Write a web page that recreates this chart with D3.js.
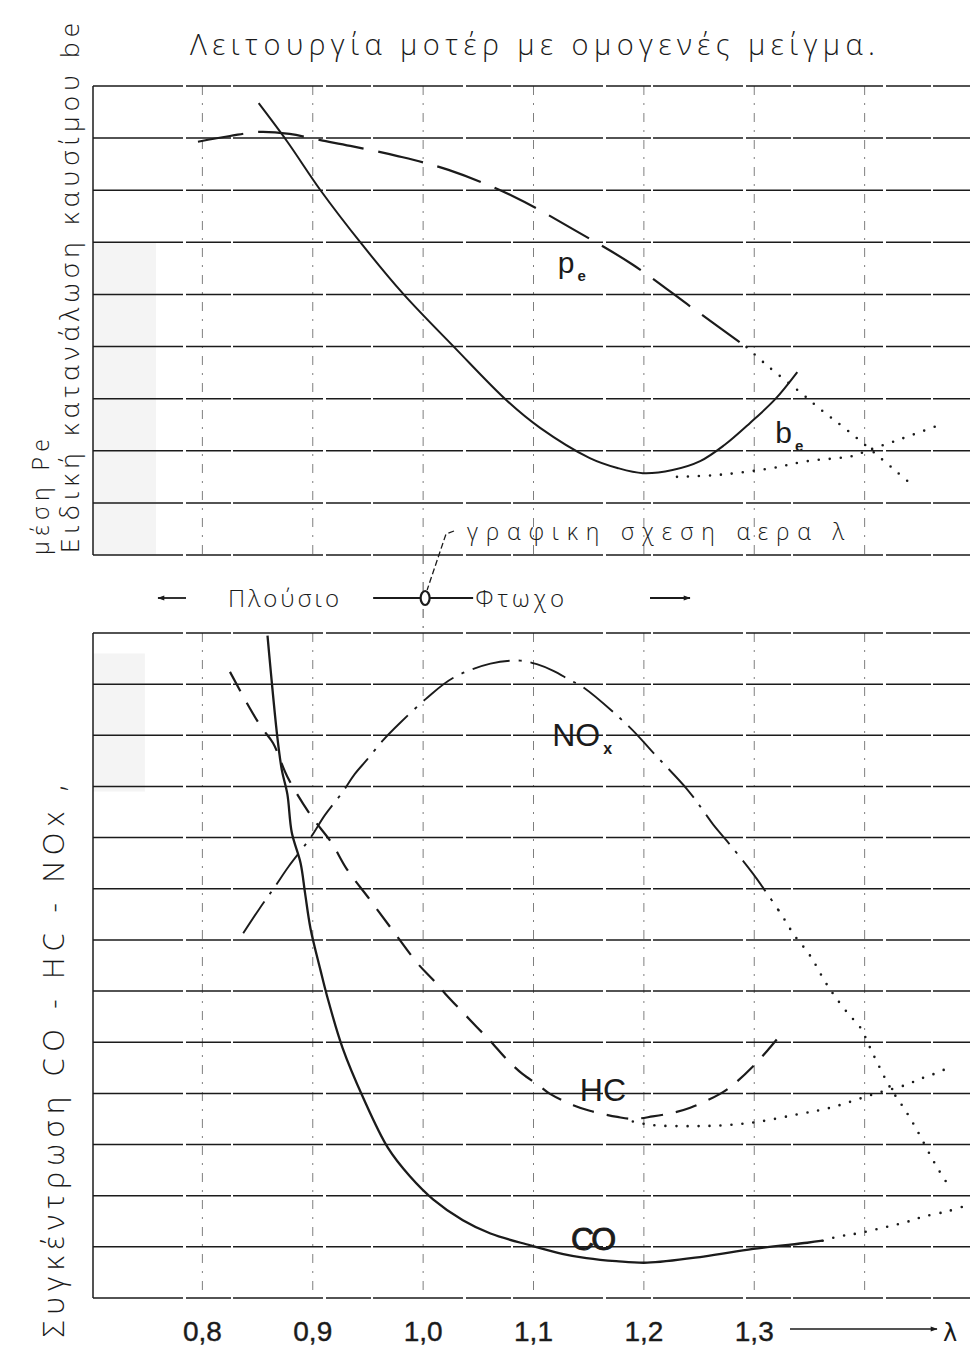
<!DOCTYPE html>
<html><head><meta charset="utf-8">
<script src="https://cdn.jsdelivr.net/npm/d3@7"></script>
<style>body{margin:0;background:#fff}svg{display:block}</style>
</head><body>
<svg id="chart" width="973" height="1353"></svg>
<script>
// ---------- data (λ, value in grid units) ----------
const lambdaTicks = [0.8, 0.9, 1.0, 1.1, 1.2, 1.3];
const lambdaTickLabels = ["0,8", "0,9", "1,0", "1,1", "1,2", "1,3"];
const gridLambdas = [0.8, 0.9, 1.0, 1.1, 1.2, 1.3, 1.4];
const topRows = [0, 1, 2, 3, 4, 5, 6, 7, 8, 9];
const bottomRows = [0, 1, 2, 3, 4, 5, 6, 7, 8, 9, 10, 11, 12, 13];

// upper panel: mean pressure pe and specific consumption be
const pe = [[0.796,7.93],[0.825,8.04],[0.852,8.12],[0.879,8.08],[0.907,7.96],[0.934,7.85],[0.976,7.66],[1.023,7.39],[1.081,6.89],[1.140,6.20],[1.190,5.57],[1.244,4.74],[1.293,3.99]];
const peLean = [[1.293,3.99],[1.312,3.63],[1.343,3.10],[1.362,2.76],[1.384,2.40],[1.425,1.67],[1.446,1.29]];
const be = [[0.851,8.67],[0.877,7.93],[0.907,7.00],[0.945,5.95],[0.982,5.01],[1.029,3.97],[1.076,2.96],[1.106,2.44],[1.151,1.86],[1.176,1.67],[1.199,1.57],[1.226,1.63],[1.251,1.80],[1.273,2.11],[1.296,2.53],[1.319,2.99],[1.339,3.51]];
const beLean = [[1.230,1.50],[1.269,1.54],[1.314,1.66],[1.348,1.80],[1.389,1.90],[1.402,2.00],[1.432,2.22],[1.466,2.48]];

// lower panel: CO, HC, NOx concentration
const co = [[0.859,12.95],[0.868,10.95],[0.872,10.32],[0.877,9.85],[0.881,9.10],[0.889,8.50],[0.893,7.92],[0.898,7.22],[0.907,6.41],[0.913,5.90],[0.927,4.89],[0.946,3.90],[0.968,2.94],[0.988,2.38],[1.009,1.93],[1.036,1.52],[1.061,1.26],[1.097,1.03],[1.127,0.86],[1.148,0.78],[1.175,0.72],[1.203,0.69],[1.254,0.81],[1.299,0.96],[1.348,1.08],[1.362,1.12]];
const coLean = [[1.362,1.12],[1.378,1.21],[1.393,1.26],[1.420,1.39],[1.437,1.48],[1.453,1.59],[1.476,1.70],[1.491,1.80]];
const hc = [[0.825,12.24],[0.843,11.53],[0.854,11.14],[0.864,10.85],[0.877,10.19],[0.898,9.44],[0.917,8.90],[0.931,8.38],[0.952,7.78],[0.973,7.17],[0.995,6.54],[1.009,6.22],[1.020,5.95],[1.049,5.29],[1.061,5.02],[1.076,4.66],[1.090,4.38],[1.104,4.17],[1.115,3.99],[1.136,3.77],[1.151,3.66],[1.176,3.54],[1.190,3.50],[1.208,3.55],[1.226,3.62],[1.242,3.72],[1.269,3.99],[1.281,4.17],[1.299,4.53],[1.312,4.84],[1.326,5.20]];
const hcLean = [[1.190,3.45],[1.208,3.38],[1.245,3.36],[1.275,3.38],[1.305,3.45],[1.339,3.59],[1.369,3.72],[1.409,3.99],[1.438,4.17],[1.450,4.28],[1.464,4.39],[1.479,4.53]];
const nox = [[0.837,7.13],[0.852,7.62],[0.866,8.05],[0.878,8.43],[0.898,9.00],[0.911,9.44],[0.927,9.89],[0.938,10.24],[0.949,10.52],[0.964,10.91],[0.979,11.24],[1.004,11.74],[1.027,12.12],[1.061,12.40],[1.088,12.46],[1.103,12.39],[1.118,12.26],[1.133,12.08],[1.145,11.94],[1.187,11.16],[1.208,10.67],[1.239,9.95],[1.253,9.55],[1.263,9.25],[1.275,8.94],[1.299,8.29],[1.322,7.58]];
const noxLean = [[1.322,7.58],[1.330,7.31],[1.335,7.13],[1.351,6.68],[1.364,6.19],[1.371,5.96],[1.385,5.56],[1.396,5.29],[1.405,4.89],[1.411,4.62],[1.423,4.12],[1.438,3.63],[1.450,3.18],[1.461,2.73],[1.468,2.47],[1.476,2.20]];

// curve labels: [text, subscript, λ, grid value]
const topLabels = [["p","e",1.122,5.41],["b","e",1.319,2.15]];
const bottomLabels = [["NO","x",1.117,10.79],["HC","",1.142,3.85],["CO","",1.134,0.94]];

// texts
const titleText = "Λειτουργία μοτέρ με ομογενές μείγμα.";
const yTopLabel1 = "μέση Pe";
const yTopLabel2 = "Ειδική κατανάλωση καυσίμου be";
const yBottomLabel = "Συγκέντρωση CO - HC - NOx ,";
const airNote = "γραφικη σχεση αερα λ";
const richText = "Πλούσιο";
const leanText = "Φτωχο";
const axisName = "λ";

// ---------- drawing ----------
const svg = d3.select("#chart");
const x = d3.scaleLinear().domain([0.7, 1.5]).range([92, 975]);
const yTop = d3.scaleLinear().domain([0, 9]).range([555, 86]);
const yBot = d3.scaleLinear().domain([0, 13]).range([1298, 633]);
const thinFont = "'Open Sans','Noto Sans','DejaVu Sans',sans-serif";
const ink = "#1b1b1b";

svg.append("rect").attr("width", 973).attr("height", 1353).attr("fill", "#fff");

const defs = svg.append("defs");
defs.append("marker").attr("id", "ah").attr("viewBox", "0 0 10 10").attr("refX", 9).attr("refY", 5)
  .attr("markerWidth", 9).attr("markerHeight", 7).attr("orient", "auto-start-reverse")
  .attr("markerUnits", "userSpaceOnUse")
  .append("path").attr("d", "M0,1.5L10,5L0,8.5Z").attr("fill", ink);

// faint scan shading
svg.append("rect").attr("x", x(0.7) + 1).attr("y", yTop(6)).attr("width", x(0.757) - x(0.7))
  .attr("height", yTop(0) - yTop(6)).attr("fill", "#f4f4f4");
svg.append("rect").attr("x", x(0.7) + 1).attr("y", yBot(12.6)).attr("width", x(0.747) - x(0.7))
  .attr("height", yBot(9.9) - yBot(12.6)).attr("fill", "#f4f4f4");

function panel(yScale, rows) {
  const g = svg.append("g");
  const [y0, y1] = yScale.range();
  g.selectAll(".v").data(gridLambdas).enter().append("line")
    .attr("x1", d => x(d)).attr("x2", d => x(d)).attr("y1", y1).attr("y2", y0)
    .attr("stroke", "#555").attr("stroke-width", 1)
    .attr("stroke-dasharray", "9,8,2,8").attr("opacity", 0.75);
  g.selectAll(".h").data(rows).enter().append("line")
    .attr("x1", x(0.7) + 1).attr("x2", 970).attr("y1", d => yScale(d)).attr("y2", d => yScale(d))
    .attr("stroke", ink).attr("stroke-width", 1.5).attr("stroke-dasharray", "90,3,45,2");
  g.append("line").attr("x1", x(0.7) + 1).attr("x2", x(0.7) + 1).attr("y1", y1).attr("y2", y0)
    .attr("stroke", ink).attr("stroke-width", 1.5);
  return g;
}
panel(yTop, topRows);
panel(yBot, bottomRows);
svg.append("line").attr("x1", x(1.0)).attr("x2", x(1.0)).attr("y1", yTop(0)).attr("y2", yBot(13))
  .attr("stroke", "#555").attr("stroke-width", 1).attr("stroke-dasharray", "9,8,2,8");

function curve(data, yScale, style) {
  const line = d3.line().x(d => x(d[0])).y(d => yScale(d[1])).curve(d3.curveCatmullRom.alpha(0.5));
  svg.append("path").attr("d", line(data)).attr("fill", "none").attr("stroke", ink)
    .attr("stroke-width", style.w).attr("stroke-dasharray", style.dash || null)
    .attr("stroke-linecap", style.cap || "butt");
}
const solid = {w: 2};
const dotted = {w: 2.6, dash: "0,11", cap: "round"};
curve(pe, yTop, {w: 2.2, dash: "46,15"});
curve(peLean, yTop, dotted);
curve(be, yTop, solid);
curve(beLean, yTop, dotted);
curve(co, yBot, {w: 2.3});
curve(coLean, yBot, dotted);
curve(hc, yBot, {w: 2.2, dash: "22,13"});
curve(hcLean, yBot, dotted);
curve(nox, yBot, {w: 1.9, dash: "38,9,3,9"});
curve(noxLean, yBot, dotted);

function labels(list, yScale, size) {
  list.forEach(([t, sub, l, v]) => {
    const tx = svg.append("text").attr("x", x(l)).attr("y", yScale(v))
      .attr("font-family", "'Liberation Sans',Arial,sans-serif").attr("font-size", size)
      .attr("fill", ink).text(t);
    if (t === "CO") tx.attr("letter-spacing", -3).attr("stroke", ink).attr("stroke-width", 0.9);
    if (sub) {
      tx.append("tspan").attr("dy", 8).attr("dx", 3).attr("font-size", size * 0.5)
        .attr("font-weight", "bold").text(sub);
    }
  });
}
labels(topLabels, yTop, 30);
labels(bottomLabels, yBot, 32);

svg.append("text").attr("x", 190).attr("y", 55).attr("font-family", thinFont).attr("font-weight", 300)
  .attr("font-size", 29).attr("fill", ink).attr("textLength", 685).attr("lengthAdjust", "spacing")
  .text(titleText);

function vtext(str, bx, by, len, size) {
  svg.append("text").attr("transform", `translate(${bx},${by}) rotate(-90)`)
    .attr("font-family", thinFont).attr("font-weight", 300).attr("font-size", size)
    .attr("fill", ink).attr("textLength", len).attr("lengthAdjust", "spacing").text(str);
}
vtext(yTopLabel1, 49, 555, 116, 23);
vtext(yTopLabel2, 79, 553, 530, 26);
vtext(yBottomLabel, 64, 1337, 552, 29);

svg.append("text").attr("x", 467).attr("y", 540).attr("font-family", thinFont).attr("font-weight", 300)
  .attr("font-size", 23).attr("fill", ink).attr("textLength", 377).attr("lengthAdjust", "spacing")
  .text(airNote);
svg.append("path").attr("d", `M454,531L446,534L${x(1.0) + 4},590`).attr("fill", "none")
  .attr("stroke", ink).attr("stroke-width", 1.3).attr("stroke-dasharray", "6,3");
svg.append("line").attr("x1", 186).attr("x2", 158).attr("y1", 598).attr("y2", 598)
  .attr("stroke", ink).attr("stroke-width", 1.8).attr("marker-end", "url(#ah)");
svg.append("text").attr("x", 228).attr("y", 607).attr("font-family", thinFont).attr("font-weight", 300)
  .attr("font-size", 24).attr("fill", ink).attr("textLength", 111).attr("lengthAdjust", "spacing").text(richText);
svg.append("line").attr("x1", x(1.0) - 50).attr("x2", x(1.0) + 50).attr("y1", 598).attr("y2", 598)
  .attr("stroke", ink).attr("stroke-width", 1.8);
svg.append("ellipse").attr("cx", x(1.0) + 2).attr("cy", 598).attr("rx", 4.5).attr("ry", 7)
  .attr("fill", "#fff").attr("stroke", ink).attr("stroke-width", 2.2);
svg.append("text").attr("x", x(1.0) + 52).attr("y", 607).attr("font-family", thinFont).attr("font-weight", 300)
  .attr("font-size", 24).attr("fill", ink).attr("textLength", 89).attr("lengthAdjust", "spacing").text(leanText);
svg.append("line").attr("x1", 650).attr("x2", 690).attr("y1", 598).attr("y2", 598)
  .attr("stroke", ink).attr("stroke-width", 1.8).attr("marker-end", "url(#ah)");

svg.selectAll(".xl").data(lambdaTicks).enter().append("text")
  .attr("x", d => x(d)).attr("y", 1341).attr("text-anchor", "middle")
  .attr("font-family", "'Liberation Sans',Arial,sans-serif").attr("font-size", 28)
  .attr("fill", ink).attr("stroke", ink).attr("stroke-width", 0.4)
  .text((d, i) => lambdaTickLabels[i]);
svg.append("line").attr("x1", 790).attr("x2", 937).attr("y1", 1329).attr("y2", 1329)
  .attr("stroke", ink).attr("stroke-width", 1.6).attr("marker-end", "url(#ah)");
svg.append("text").attr("x", 943).attr("y", 1341).attr("font-family", "'DejaVu Sans',sans-serif")
  .attr("font-size", 24).attr("fill", ink).text(axisName);
</script>
</body></html>
